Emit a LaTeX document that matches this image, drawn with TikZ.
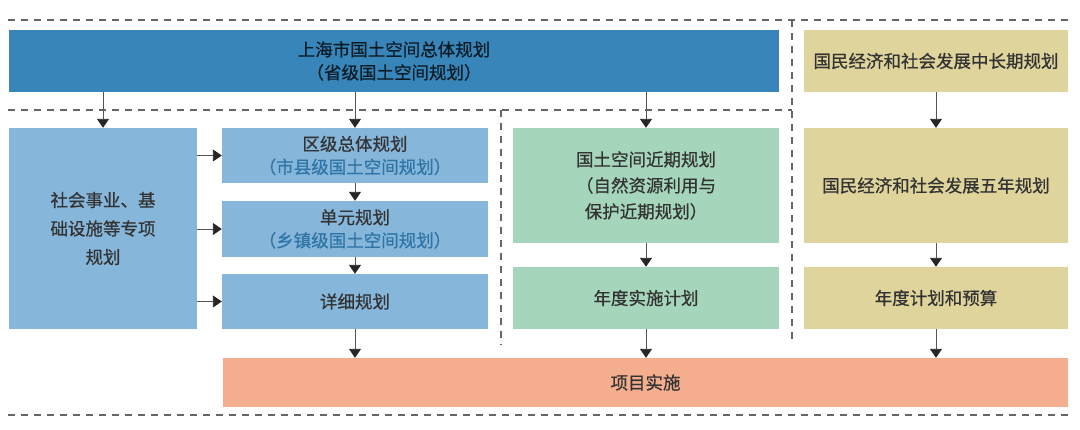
\documentclass[tikz,border=0pt]{standalone}
\usepackage{fontspec}
\setmainfont{Noto Sans CJK SC}[FakeBold=0.6]
\usetikzlibrary{arrows.meta}
\definecolor{topblue}{HTML}{3886B9}
\definecolor{lblue}{HTML}{86B7DB}
\definecolor{lgreen}{HTML}{A5D6BB}
\definecolor{lyellow}{HTML}{DFD49C}
\definecolor{lorange}{HTML}{F4AE8D}
\definecolor{txt}{HTML}{333333}
\definecolor{subblue}{HTML}{2F74A6}
\definecolor{dashgray}{HTML}{666666}
\definecolor{arrgray}{HTML}{555555}
\definecolor{tipblack}{HTML}{262626}
\tikzset{
  box/.style={rectangle, inner sep=0pt, draw=none, text=txt, align=center,
    font=\fontsize{17.5}{23}\selectfont},
  sep/.style={draw=dashgray, line width=1.6pt, dash pattern=on 7pt off 6pt},
  flow/.style={draw=arrgray, line width=0.9pt,
    -{Triangle[width=12pt,length=9pt,color=tipblack]}},
}
\begin{document}
\begin{tikzpicture}[x=1pt,y=-1pt]
\useasboundingbox (0,0) rectangle (1080,429);
% separators
\coordinate (sTL) at (8,20);
\coordinate (sTR) at (1068,20);
\coordinate (sV1t) at (792,20);
\coordinate (sV1b) at (792,345);
\coordinate (sML) at (8,110);
\coordinate (sMR) at (792,110);
\coordinate (sV2t) at (501,110);
\coordinate (sV2b) at (501,345);
\coordinate (sBL) at (8,415);
\coordinate (sBR) at (1068,415);
\draw[sep] (sTL) -- (sTR);
\draw[sep] (sV1t) -- (sV1b);
\draw[sep] (sML) -- (sMR);
\draw[sep] (sV2t) -- (sV2b);
\draw[sep] (sBL) -- (sBR);
% boxes
\node[box, fill=topblue, minimum width=770pt, minimum height=62pt, text=black!80!topblue] (top) at (394,61)
  {上海市国土空间总体规划\\（省级国土空间规划）};
\node[box, fill=lyellow, minimum width=264pt, minimum height=62pt] (y1) at (936,61)
  {国民经济和社会发展中长期规划};
\node[box, fill=lblue, minimum width=188pt, minimum height=201pt, font=\fontsize{17.5}{28.5}\selectfont] (left) at (103,228.5)
  {社会事业、基\\础设施等专项\\规划};
\node[box, fill=lblue, minimum width=266pt, minimum height=55pt] (d1) at (355,155.5)
  {区级总体规划\\{\color{subblue}（市县级国土空间规划）}};
\node[box, fill=lblue, minimum width=266pt, minimum height=56pt] (d2) at (355,229)
  {单元规划\\{\color{subblue}（乡镇级国土空间规划）}};
\node[box, fill=lblue, minimum width=266pt, minimum height=55pt] (d3) at (355,301.5)
  {详细规划};
\node[box, fill=lgreen, minimum width=266pt, minimum height=115pt, font=\fontsize{17.5}{26}\selectfont] (g1) at (646,185.5)
  {国土空间近期规划\\（自然资源利用与\\保护近期规划）};
\node[box, fill=lgreen, minimum width=266pt, minimum height=62pt] (g2) at (646,298)
  {年度实施计划};
\node[box, fill=lyellow, minimum width=264pt, minimum height=115pt] (y2) at (936,185.5)
  {国民经济和社会发展五年规划};
\node[box, fill=lyellow, minimum width=264pt, minimum height=62pt] (y3) at (936,298)
  {年度计划和预算};
\node[box, fill=lorange, minimum width=845pt, minimum height=49pt] (proj) at (645.5,382.5)
  {项目实施};
% connectors
\draw[flow] (top.south -| left.north) -- (left.north);
\draw[flow] (top.south -| d1.north) -- (d1.north);
\draw[flow] (top.south -| g1.north) -- (g1.north);
\draw[flow] (y1.south) -- (y2.north);
\draw[flow] (left.east |- d1.west) -- (d1.west);
\draw[flow] (left.east |- d2.west) -- (d2.west);
\draw[flow] (left.east |- d3.west) -- (d3.west);
\draw[flow] (d1.south) -- (d2.north);
\draw[flow] (d2.south) -- (d3.north);
\draw[flow] (g1.south) -- (g2.north);
\draw[flow] (y2.south) -- (y3.north);
\draw[flow] (d3.south) -- (d3.south |- proj.north);
\draw[flow] (g2.south) -- (g2.south |- proj.north);
\draw[flow] (y3.south) -- (y3.south |- proj.north);
\end{tikzpicture}
\end{document}
